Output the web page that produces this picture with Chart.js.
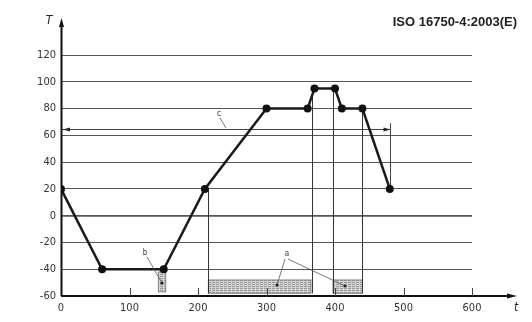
<!DOCTYPE html>
<html>
<head>
<meta charset="utf-8">
<script src="https://cdn.jsdelivr.net/npm/chart.js@4"></script>
<style>
  html, body { margin: 0; padding: 0; background: #fff; }
  #wrap { position: relative; width: 532px; height: 322px; }
</style>
</head>
<body>
<div id="wrap"><canvas id="cycle"></canvas></div>
<script>
// temperature cycle (ISO 16750-4), time in min, T in °C
const timeMin = [0, 60, 150, 210, 300, 360, 370, 400, 410, 440, 480];
const tempC   = [20, -40, -40, 20, 80, 80, 95, 95, 80, 80, 20];

const xTicks = [0, 100, 200, 300, 400, 500, 600];
const yTicks = [-60, -40, -20, 0, 20, 40, 60, 80, 100, 120];

// hatched measuring windows (a) and the small one (b)
const soakFrom = [215, 397];
const soakTo   = [365, 440];
const soakLow  = -58;
const soakHigh = -48;
const checkFrom = 142, checkTo = 153, checkLow = -57, checkHigh = -42;

// vertical guide lines: x and top value
const guideX   = [215, 366, 397, 440];
const guideTop = [20, 93, 95, 80];

// dimension c
const spanEnd = 480, spanLevel = 65;

const labelFont = "'Liberation Sans Narrow', 'DejaVu Sans Condensed', Arial, sans-serif";

function hatch(ctx) {
  const c = document.createElement('canvas');
  c.width = 4; c.height = 2;
  const g = c.getContext('2d');
  g.fillStyle = '#d2d2d2';
  g.fillRect(0, 0, 4, 2);
  g.fillStyle = '#9a9a9a';
  g.fillRect(0, 0, 3, 1);
  return ctx.createPattern(c, 'repeat');
}

function arrowHead(ctx, x, y, dir, len, w) {
  ctx.beginPath();
  if (dir === 'up') { ctx.moveTo(x, y); ctx.lineTo(x - w, y + len); ctx.lineTo(x + w, y + len); }
  if (dir === 'right') { ctx.moveTo(x, y); ctx.lineTo(x - len, y - w); ctx.lineTo(x - len, y + w); }
  if (dir === 'left') { ctx.moveTo(x, y); ctx.lineTo(x + len, y - w); ctx.lineTo(x + len, y + w); }
  ctx.closePath();
  ctx.fill();
}

const extras = {
  id: 'extras',
  beforeDatasetsDraw(chart) {
    const { ctx, scales: { x, y } } = chart;
    ctx.save();
    // hatched windows
    ctx.fillStyle = hatch(ctx);
    ctx.strokeStyle = '#777';
    ctx.lineWidth = 0.8;
    soakFrom.forEach((s, i) => {
      const x0 = x.getPixelForValue(s), x1 = x.getPixelForValue(soakTo[i]);
      const y0 = y.getPixelForValue(soakHigh), y1 = y.getPixelForValue(soakLow);
      ctx.fillRect(x0, y0, x1 - x0, y1 - y0);
      ctx.strokeRect(x0, y0, x1 - x0, y1 - y0);
    });
    const bx0 = x.getPixelForValue(checkFrom), bx1 = x.getPixelForValue(checkTo);
    const by0 = y.getPixelForValue(checkHigh), by1 = y.getPixelForValue(checkLow);
    ctx.fillRect(bx0, by0, bx1 - bx0, by1 - by0);
    ctx.strokeRect(bx0, by0, bx1 - bx0, by1 - by0);

    // guide lines
    ctx.strokeStyle = '#333';
    ctx.lineWidth = 1;
    guideX.forEach((g, i) => {
      const px = Math.round(x.getPixelForValue(g)) + 0.5;
      ctx.beginPath();
      ctx.moveTo(px, y.getPixelForValue(guideTop[i]));
      ctx.lineTo(px, y.getPixelForValue(soakLow));
      ctx.stroke();
    });

    // dimension c
    const ay = Math.round(y.getPixelForValue(spanLevel)) + 0.5;
    const ax0 = x.getPixelForValue(0) + 1, ax1 = Math.round(x.getPixelForValue(spanEnd)) + 0.5;
    ctx.strokeStyle = '#444';
    ctx.beginPath();
    ctx.moveTo(ax0, ay); ctx.lineTo(ax1, ay);
    ctx.moveTo(ax1, y.getPixelForValue(69)); ctx.lineTo(ax1, y.getPixelForValue(20));
    ctx.stroke();
    ctx.fillStyle = '#222';
    arrowHead(ctx, ax0 + 1, ay, 'left', 7, 2);
    arrowHead(ctx, ax1, ay, 'right', 7, 2);
    ctx.restore();
  },
  afterDatasetsDraw(chart) {
    const { ctx, chartArea: a, scales: { x, y } } = chart;
    ctx.save();
    ctx.strokeStyle = '#111';
    ctx.fillStyle = '#111';
    ctx.lineWidth = 2;
    // y axis with arrow
    const ox = Math.round(a.left) + 0.5, oy = Math.round(a.bottom);
    ctx.beginPath();
    ctx.moveTo(ox, oy); ctx.lineTo(ox, 26);
    ctx.stroke();
    arrowHead(ctx, ox, 18, 'up', 9, 2.5);
    // x axis with arrow
    ctx.lineWidth = 1.8;
    ctx.beginPath();
    ctx.moveTo(ox, oy); ctx.lineTo(508, oy);
    ctx.stroke();
    arrowHead(ctx, 517, oy, 'right', 10, 2.5);
    // x ticks (inside)
    ctx.lineWidth = 1;
    ctx.strokeStyle = '#444';
    xTicks.slice(1).forEach(v => {
      const px = Math.round(x.getPixelForValue(v)) + 0.5;
      ctx.beginPath();
      ctx.moveTo(px, oy); ctx.lineTo(px, oy - 8);
      ctx.stroke();
    });

    // leaders a, b, c
    ctx.strokeStyle = '#555';
    ctx.lineWidth = 0.8;
    ctx.beginPath();
    ctx.moveTo(285, 259); ctx.lineTo(277, 285);
    ctx.moveTo(288, 259); ctx.lineTo(345, 286);
    ctx.moveTo(147, 257); ctx.lineTo(162, 283);
    ctx.moveTo(220, 118); ctx.lineTo(226, 128);
    ctx.stroke();
    ctx.fillStyle = '#222';
    [[277, 285], [345, 286], [162, 283]].forEach(p => {
      ctx.beginPath(); ctx.arc(p[0], p[1], 1.6, 0, Math.PI * 2); ctx.fill();
    });
    ctx.font = '8px ' + labelFont;
    ctx.fillStyle = '#333';
    ctx.textAlign = 'center';
    ctx.textBaseline = 'middle';
    ctx.fillText('a', 287, 254);
    ctx.fillText('b', 145, 253);
    ctx.fillText('c', 219, 114);

    // axis letters and title
    ctx.font = 'italic 12px ' + labelFont;
    ctx.fillStyle = '#222';
    ctx.fillText('T', 49, 21);
    ctx.fillText('t', 516, 308);
    ctx.font = 'bold 13px "Liberation Sans", Arial, sans-serif';
    ctx.textAlign = 'right';
    ctx.fillText('ISO 16750-4:2003(E)', 517, 22);
    ctx.restore();
  }
};

new Chart(document.getElementById('cycle'), {
  type: 'line',
  data: {
    datasets: [{
      data: timeMin.map((t, i) => ({ x: t, y: tempC[i] })),
      borderColor: '#1a1a1a',
      borderWidth: 2.5,
      pointRadius: 4,
      pointBackgroundColor: '#111',
      pointBorderColor: '#111',
      pointBorderWidth: 0,
      tension: 0,
      fill: false
    }]
  },
  options: {
    responsive: true,
    maintainAspectRatio: false,
    animation: false,
    layout: { padding: { top: 55, right: 60, left: 0, bottom: 0 } },
    plugins: { legend: { display: false }, tooltip: { enabled: false } },
    scales: {
      x: {
        type: 'linear',
        min: 0, max: 600,
        afterFit: s => { s.height = 26; },
        afterBuildTicks: s => { s.ticks = xTicks.map(v => ({ value: v })); },
        ticks: { color: '#333', padding: 6, font: { family: labelFont, size: 11 } },
        grid: { display: false, drawTicks: false },
        border: { display: false }
      },
      y: {
        type: 'linear',
        min: -60, max: 120,
        afterFit: s => { s.width = 61; },
        afterBuildTicks: s => { s.ticks = yTicks.map(v => ({ value: v })); },
        ticks: { color: '#333', padding: 5, font: { family: labelFont, size: 11 } },
        grid: {
          drawTicks: false,
          color: '#555',
          lineWidth: c => (c.tick && c.tick.value === 0 ? 1.8 : 1)
        },
        border: { display: false }
      }
    }
  },
  plugins: [extras]
});
</script>
</body>
</html>
